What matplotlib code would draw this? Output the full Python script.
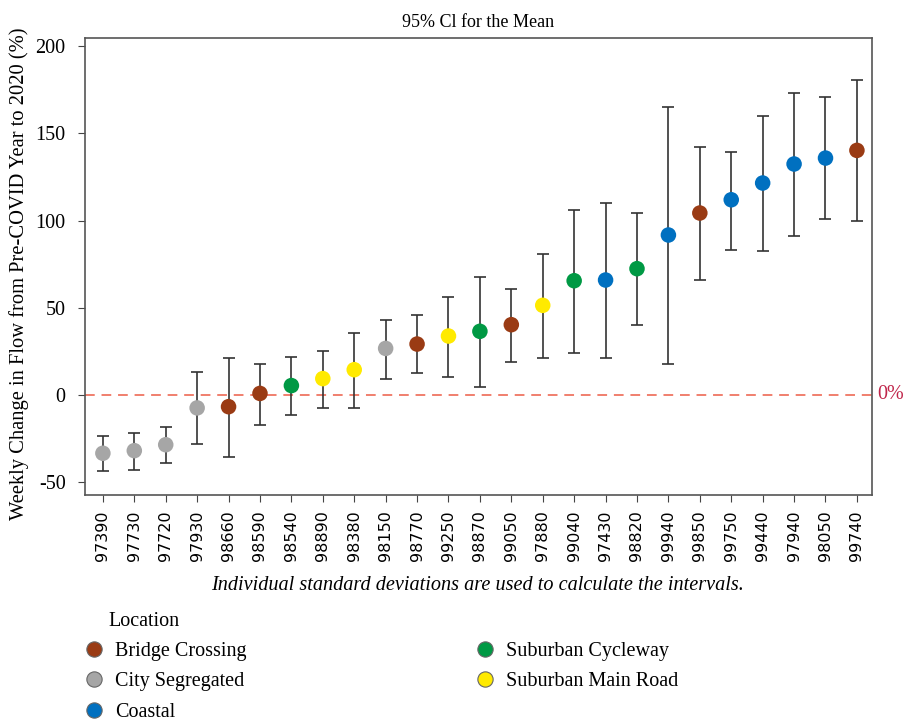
import matplotlib
matplotlib.use("Agg")
import matplotlib.pyplot as plt
from matplotlib.lines import Line2D

# sensor ids, in plotted order
sites = ["97390", "97730", "97720", "97930", "98660", "98590", "98540", "98890",
         "98380", "98150", "98770", "99250", "98870", "99050", "97880", "99040",
         "97430", "98820", "99940", "99850", "99750", "99440", "97940", "98050",
         "99740"]
means = [-33.4, -31.9, -28.5, -7.4, -6.7, 0.9, 5.4, 9.4, 14.5, 26.7, 29.2, 33.8,
         36.5, 40.3, 51.4, 65.5, 65.9, 72.4, 91.7, 104.3, 111.9, 121.5, 132.4,
         135.8, 140.2]
upper = [-23.5, -21.6, -18.2, 13.4, 21.4, 17.8, 22.0, 25.4, 35.7, 42.8, 45.8, 56.4,
         67.6, 60.9, 80.8, 106.0, 110.0, 104.1, 164.9, 141.9, 139.4, 160.1, 173.2,
         170.8, 180.3]
lower = [-43.6, -43.0, -38.8, -27.9, -35.3, -17.2, -11.5, -7.7, -7.7, 9.4, 12.4,
         10.3, 4.6, 19.1, 21.0, 23.9, 21.0, 40.1, 17.8, 65.9, 83.1, 82.7, 90.9,
         100.7, 99.7]
location = ["City Segregated", "City Segregated", "City Segregated", "City Segregated",
            "Bridge Crossing", "Bridge Crossing", "Suburban Cycleway", "Suburban Main Road",
            "Suburban Main Road", "City Segregated", "Bridge Crossing", "Suburban Main Road",
            "Suburban Cycleway", "Bridge Crossing", "Suburban Main Road", "Suburban Cycleway",
            "Coastal", "Suburban Cycleway", "Coastal", "Bridge Crossing", "Coastal",
            "Coastal", "Coastal", "Coastal", "Bridge Crossing"]

loc_names = ["Bridge Crossing", "City Segregated", "Coastal",
             "Suburban Cycleway", "Suburban Main Road"]
loc_colors = {"Bridge Crossing": "#9a3b14", "City Segregated": "#a6a6a6",
              "Coastal": "#0070c0", "Suburban Cycleway": "#009944",
              "Suburban Main Road": "#ffea00"}

plt.rcParams["font.family"] = "Liberation Serif"
plt.rcParams["axes.unicode_minus"] = False

fig = plt.figure(figsize=(9.04, 7.23), dpi=100)
ax = fig.add_axes([0.094, 0.3154, 0.8706, 0.632])

x = list(range(len(sites)))
yerr = [[m - lo for m, lo in zip(means, lower)], [hi - m for m, hi in zip(means, upper)]]
ax.errorbar(x, means, yerr=yerr, fmt="none", ecolor="#333333", elinewidth=1.2,
            capsize=4, capthick=1.2, zorder=2)
ax.scatter(x, means, s=125, c=[loc_colors[l] for l in location], zorder=3,
           edgecolors="none")

ax.axhline(0, color="#f07f6e", linestyle=(0, (5, 3.5)), lw=1.4, zorder=1)
ax.text(1.007, 0, "0%", transform=ax.get_yaxis_transform(), color="#c0254a",
        fontsize=14.5, va="center", ha="left")

ax.set_xlim(-0.57, 24.48)
ax.set_ylim(-57.3, 204.6)
ax.set_yticks([-50, 0, 50, 100, 150, 200])
ax.set_xticks(x)
ax.set_xticklabels(sites, rotation=90, family="DejaVu Sans", fontsize=11.5)
ax.tick_params(axis="y", labelsize=14.5, length=5, pad=9, color="#444444")
ax.tick_params(axis="x", length=5, pad=6, color="#444444")
for sp in ax.spines.values():
    sp.set_color("#555555")
    sp.set_linewidth(1.2)

ax.set_title("95% Cl for the Mean", fontsize=13, pad=8)
ax.set_ylabel("Weekly Change in Flow from Pre-COVID Year to 2020 (%)", fontsize=14.8)
ax.yaxis.set_label_coords(-0.071, 0.485)

fig.text(0.528, 0.19, "Individual standard deviations are used to calculate the intervals.",
         style="italic", fontsize=14.6, ha="center", va="center")

fig.text(108 / 904, 1 - 622 / 723, "Location", fontsize=14.5, ha="left", va="center")
handles = [Line2D([], [], marker="o", linestyle="none", markersize=11,
                  markerfacecolor=loc_colors[n], markeredgecolor="#666666",
                  markeredgewidth=0.8) for n in loc_names]
fig.legend(handles, loc_names, loc="upper left", bbox_to_anchor=(0.082, 0.123),
           ncol=2, frameon=False, fontsize=14.5, handletextpad=0.45,
           columnspacing=11.2, labelspacing=0.55, borderaxespad=0, handlelength=1.2)

fig.savefig("out.png", dpi=100)
